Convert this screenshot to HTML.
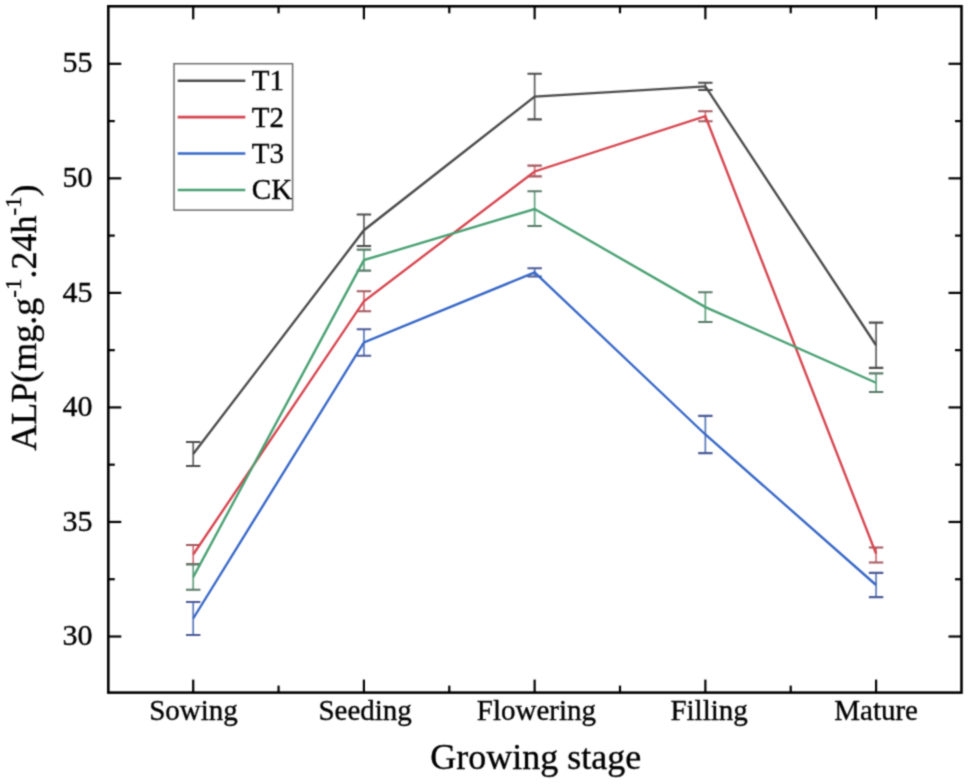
<!DOCTYPE html>
<html><head><meta charset="utf-8"><style>
html,body{margin:0;padding:0;background:#fff;}
svg{display:block;}
#w{width:968px;height:784px;}
text{font-family:"Liberation Serif",serif;fill:#000;stroke:#000;stroke-width:0.35px;}
.tl{font-size:29px;}
.tn{font-size:30px;}
.at{font-size:36px;}
.lg{font-size:29px;}
.sup{font-size:23px;}
</style></head><body>
<div id="w"><svg width="968" height="784" viewBox="0 0 968 784"><defs><filter id="bl" x="0" y="0" width="100%" height="100%" color-interpolation-filters="sRGB"><feConvolveMatrix order="3" kernelMatrix="1 2 1 2 8 2 1 2 1" divisor="20" edgeMode="duplicate"/></filter></defs>
<g filter="url(#bl)"><rect width="968" height="784" fill="#fff"/>
<rect x="108.3" y="6.3" width="853.2" height="686.3000000000001" fill="none" stroke="#000" stroke-width="2.6"/>
<line x1="108.3" y1="636.50" x2="121.3" y2="636.50" stroke="#000" stroke-width="2.2"/>
<line x1="961.5" y1="636.50" x2="948.5" y2="636.50" stroke="#000" stroke-width="2.2"/>
<line x1="108.3" y1="579.23" x2="114.8" y2="579.23" stroke="#000" stroke-width="2.2"/>
<line x1="961.5" y1="579.23" x2="955.0" y2="579.23" stroke="#000" stroke-width="2.2"/>
<line x1="108.3" y1="521.96" x2="121.3" y2="521.96" stroke="#000" stroke-width="2.2"/>
<line x1="961.5" y1="521.96" x2="948.5" y2="521.96" stroke="#000" stroke-width="2.2"/>
<line x1="108.3" y1="464.69" x2="114.8" y2="464.69" stroke="#000" stroke-width="2.2"/>
<line x1="961.5" y1="464.69" x2="955.0" y2="464.69" stroke="#000" stroke-width="2.2"/>
<line x1="108.3" y1="407.42" x2="121.3" y2="407.42" stroke="#000" stroke-width="2.2"/>
<line x1="961.5" y1="407.42" x2="948.5" y2="407.42" stroke="#000" stroke-width="2.2"/>
<line x1="108.3" y1="350.15" x2="114.8" y2="350.15" stroke="#000" stroke-width="2.2"/>
<line x1="961.5" y1="350.15" x2="955.0" y2="350.15" stroke="#000" stroke-width="2.2"/>
<line x1="108.3" y1="292.88" x2="121.3" y2="292.88" stroke="#000" stroke-width="2.2"/>
<line x1="961.5" y1="292.88" x2="948.5" y2="292.88" stroke="#000" stroke-width="2.2"/>
<line x1="108.3" y1="235.61" x2="114.8" y2="235.61" stroke="#000" stroke-width="2.2"/>
<line x1="961.5" y1="235.61" x2="955.0" y2="235.61" stroke="#000" stroke-width="2.2"/>
<line x1="108.3" y1="178.34" x2="121.3" y2="178.34" stroke="#000" stroke-width="2.2"/>
<line x1="961.5" y1="178.34" x2="948.5" y2="178.34" stroke="#000" stroke-width="2.2"/>
<line x1="108.3" y1="121.07" x2="114.8" y2="121.07" stroke="#000" stroke-width="2.2"/>
<line x1="961.5" y1="121.07" x2="955.0" y2="121.07" stroke="#000" stroke-width="2.2"/>
<line x1="108.3" y1="63.80" x2="121.3" y2="63.80" stroke="#000" stroke-width="2.2"/>
<line x1="961.5" y1="63.80" x2="948.5" y2="63.80" stroke="#000" stroke-width="2.2"/>
<line x1="193.20" y1="692.6" x2="193.20" y2="679.6" stroke="#000" stroke-width="2.2"/>
<line x1="193.20" y1="6.3" x2="193.20" y2="19.3" stroke="#000" stroke-width="2.2"/>
<line x1="278.56" y1="692.6" x2="278.56" y2="685.6" stroke="#000" stroke-width="2.2"/>
<line x1="278.56" y1="6.3" x2="278.56" y2="13.3" stroke="#000" stroke-width="2.2"/>
<line x1="363.92" y1="692.6" x2="363.92" y2="679.6" stroke="#000" stroke-width="2.2"/>
<line x1="363.92" y1="6.3" x2="363.92" y2="19.3" stroke="#000" stroke-width="2.2"/>
<line x1="449.28" y1="692.6" x2="449.28" y2="685.6" stroke="#000" stroke-width="2.2"/>
<line x1="449.28" y1="6.3" x2="449.28" y2="13.3" stroke="#000" stroke-width="2.2"/>
<line x1="534.64" y1="692.6" x2="534.64" y2="679.6" stroke="#000" stroke-width="2.2"/>
<line x1="534.64" y1="6.3" x2="534.64" y2="19.3" stroke="#000" stroke-width="2.2"/>
<line x1="620.00" y1="692.6" x2="620.00" y2="685.6" stroke="#000" stroke-width="2.2"/>
<line x1="620.00" y1="6.3" x2="620.00" y2="13.3" stroke="#000" stroke-width="2.2"/>
<line x1="705.36" y1="692.6" x2="705.36" y2="679.6" stroke="#000" stroke-width="2.2"/>
<line x1="705.36" y1="6.3" x2="705.36" y2="19.3" stroke="#000" stroke-width="2.2"/>
<line x1="790.72" y1="692.6" x2="790.72" y2="685.6" stroke="#000" stroke-width="2.2"/>
<line x1="790.72" y1="6.3" x2="790.72" y2="13.3" stroke="#000" stroke-width="2.2"/>
<line x1="876.08" y1="692.6" x2="876.08" y2="679.6" stroke="#000" stroke-width="2.2"/>
<line x1="876.08" y1="6.3" x2="876.08" y2="19.3" stroke="#000" stroke-width="2.2"/>
<text x="92.6" y="645.1" text-anchor="end" class="tn">30</text>
<text x="92.6" y="530.6" text-anchor="end" class="tn">35</text>
<text x="92.6" y="416.0" text-anchor="end" class="tn">40</text>
<text x="92.6" y="301.5" text-anchor="end" class="tn">45</text>
<text x="92.6" y="186.9" text-anchor="end" class="tn">50</text>
<text x="92.6" y="72.4" text-anchor="end" class="tn">55</text>
<text x="193.5" y="719.8" text-anchor="middle" class="tl">Sowing</text>
<text x="365.1" y="719.8" text-anchor="middle" class="tl">Seeding</text>
<text x="536.4" y="719.8" text-anchor="middle" class="tl">Flowering</text>
<text x="709.1" y="719.8" text-anchor="middle" class="tl">Filling</text>
<text x="876.1" y="719.8" text-anchor="middle" class="tl">Mature</text>
<text x="535.8" y="769.3" text-anchor="middle" class="at">Growing stage</text>
<text transform="translate(36.3,317.6) rotate(-90)" text-anchor="middle" class="at">ALP(mg.g<tspan dy="-15" class="sup">-1</tspan><tspan dy="15">.24h</tspan><tspan dy="-15" class="sup">-1</tspan><tspan dy="15">)</tspan></text>
<path d="M193.20 442.00V466.00" stroke="#5e5e5e" stroke-width="1.7" fill="none"/>
<path d="M186.00 442.00H200.40M186.00 466.00H200.40" stroke="#4c4c4c" stroke-width="2.1" fill="none"/>
<path d="M363.92 214.45V245.95" stroke="#5e5e5e" stroke-width="1.7" fill="none"/>
<path d="M356.72 214.45H371.12M356.72 245.95H371.12" stroke="#4c4c4c" stroke-width="2.1" fill="none"/>
<path d="M534.64 73.80V119.40" stroke="#5e5e5e" stroke-width="1.7" fill="none"/>
<path d="M527.44 73.80H541.84M527.44 119.40H541.84" stroke="#4c4c4c" stroke-width="2.1" fill="none"/>
<path d="M705.36 82.75V90.05" stroke="#5e5e5e" stroke-width="1.7" fill="none"/>
<path d="M698.16 82.75H712.56M698.16 90.05H712.56" stroke="#4c4c4c" stroke-width="2.1" fill="none"/>
<path d="M876.08 322.60V367.90" stroke="#5e5e5e" stroke-width="1.7" fill="none"/>
<path d="M868.88 322.60H883.28M868.88 367.90H883.28" stroke="#4c4c4c" stroke-width="2.1" fill="none"/>
<path d="M193.20 545.00V564.00" stroke="#cc6e76" stroke-width="1.7" fill="none"/>
<path d="M186.00 545.00H200.40M186.00 564.00H200.40" stroke="#a4585e" stroke-width="2.1" fill="none"/>
<path d="M363.92 291.20V311.20" stroke="#cc6e76" stroke-width="1.7" fill="none"/>
<path d="M356.72 291.20H371.12M356.72 311.20H371.12" stroke="#a4585e" stroke-width="2.1" fill="none"/>
<path d="M534.64 165.65V176.35" stroke="#cc6e76" stroke-width="1.7" fill="none"/>
<path d="M527.44 165.65H541.84M527.44 176.35H541.84" stroke="#a4585e" stroke-width="2.1" fill="none"/>
<path d="M705.36 111.25V121.25" stroke="#cc6e76" stroke-width="1.7" fill="none"/>
<path d="M698.16 111.25H712.56M698.16 121.25H712.56" stroke="#a4585e" stroke-width="2.1" fill="none"/>
<path d="M876.08 547.45V562.55" stroke="#cc6e76" stroke-width="1.7" fill="none"/>
<path d="M868.88 547.45H883.28M868.88 562.55H883.28" stroke="#a4585e" stroke-width="2.1" fill="none"/>
<path d="M193.20 602.00V635.00" stroke="#5a78b8" stroke-width="1.7" fill="none"/>
<path d="M186.00 602.00H200.40M186.00 635.00H200.40" stroke="#4a5a96" stroke-width="2.1" fill="none"/>
<path d="M363.92 329.25V355.75" stroke="#5a78b8" stroke-width="1.7" fill="none"/>
<path d="M356.72 329.25H371.12M356.72 355.75H371.12" stroke="#4a5a96" stroke-width="2.1" fill="none"/>
<path d="M534.64 268.25V276.55" stroke="#5a78b8" stroke-width="1.7" fill="none"/>
<path d="M527.44 268.25H541.84M527.44 276.55H541.84" stroke="#4a5a96" stroke-width="2.1" fill="none"/>
<path d="M705.36 415.90V453.10" stroke="#5a78b8" stroke-width="1.7" fill="none"/>
<path d="M698.16 415.90H712.56M698.16 453.10H712.56" stroke="#4a5a96" stroke-width="2.1" fill="none"/>
<path d="M876.08 572.90V597.10" stroke="#5a78b8" stroke-width="1.7" fill="none"/>
<path d="M868.88 572.90H883.28M868.88 597.10H883.28" stroke="#4a5a96" stroke-width="2.1" fill="none"/>
<path d="M193.20 564.50V589.70" stroke="#64a080" stroke-width="1.7" fill="none"/>
<path d="M186.00 564.50H200.40M186.00 589.70H200.40" stroke="#587a68" stroke-width="2.1" fill="none"/>
<path d="M363.92 249.60V270.60" stroke="#64a080" stroke-width="1.7" fill="none"/>
<path d="M356.72 249.60H371.12M356.72 270.60H371.12" stroke="#587a68" stroke-width="2.1" fill="none"/>
<path d="M534.64 191.25V225.95" stroke="#64a080" stroke-width="1.7" fill="none"/>
<path d="M527.44 191.25H541.84M527.44 225.95H541.84" stroke="#587a68" stroke-width="2.1" fill="none"/>
<path d="M705.36 292.25V321.95" stroke="#64a080" stroke-width="1.7" fill="none"/>
<path d="M698.16 292.25H712.56M698.16 321.95H712.56" stroke="#587a68" stroke-width="2.1" fill="none"/>
<path d="M876.08 373.40V392.00" stroke="#64a080" stroke-width="1.7" fill="none"/>
<path d="M868.88 373.40H883.28M868.88 392.00H883.28" stroke="#587a68" stroke-width="2.1" fill="none"/>
<polyline points="193.20,454.00 363.92,230.20 534.64,96.60 705.36,86.40 876.08,345.25" fill="none" stroke="#4a4a4a" stroke-width="2.35" stroke-linejoin="miter"/>
<polyline points="193.20,554.50 363.92,301.20 534.64,171.50 705.36,116.25 876.08,553.80" fill="none" stroke="#d6444e" stroke-width="2.35" stroke-linejoin="miter"/>
<polyline points="193.20,618.50 363.92,342.50 534.64,272.40 705.36,434.50 876.08,585.00" fill="none" stroke="#3566c6" stroke-width="2.35" stroke-linejoin="miter"/>
<polyline points="193.20,577.10 363.92,260.10 534.64,209.00 705.36,307.10 876.08,382.70" fill="none" stroke="#48a072" stroke-width="2.35" stroke-linejoin="miter"/>
<rect x="174" y="63.7" width="118.6" height="146.4" fill="#fff" stroke="#6e6e6e" stroke-width="1.5"/>
<line x1="177.7" y1="80.75" x2="245.3" y2="80.75" stroke="#4a4a4a" stroke-width="2.6"/>
<text x="251.8" y="90.2" class="lg">T1</text>
<line x1="177.7" y1="117.15" x2="245.3" y2="117.15" stroke="#d6444e" stroke-width="2.6"/>
<text x="251.8" y="126.7" class="lg">T2</text>
<line x1="177.7" y1="153.55" x2="245.3" y2="153.55" stroke="#3566c6" stroke-width="2.6"/>
<text x="251.8" y="163.1" class="lg">T3</text>
<line x1="177.7" y1="189.95" x2="245.3" y2="189.95" stroke="#48a072" stroke-width="2.6"/>
<text x="251.8" y="199.4" class="lg">CK</text>
</g></svg></div>
</body></html>
